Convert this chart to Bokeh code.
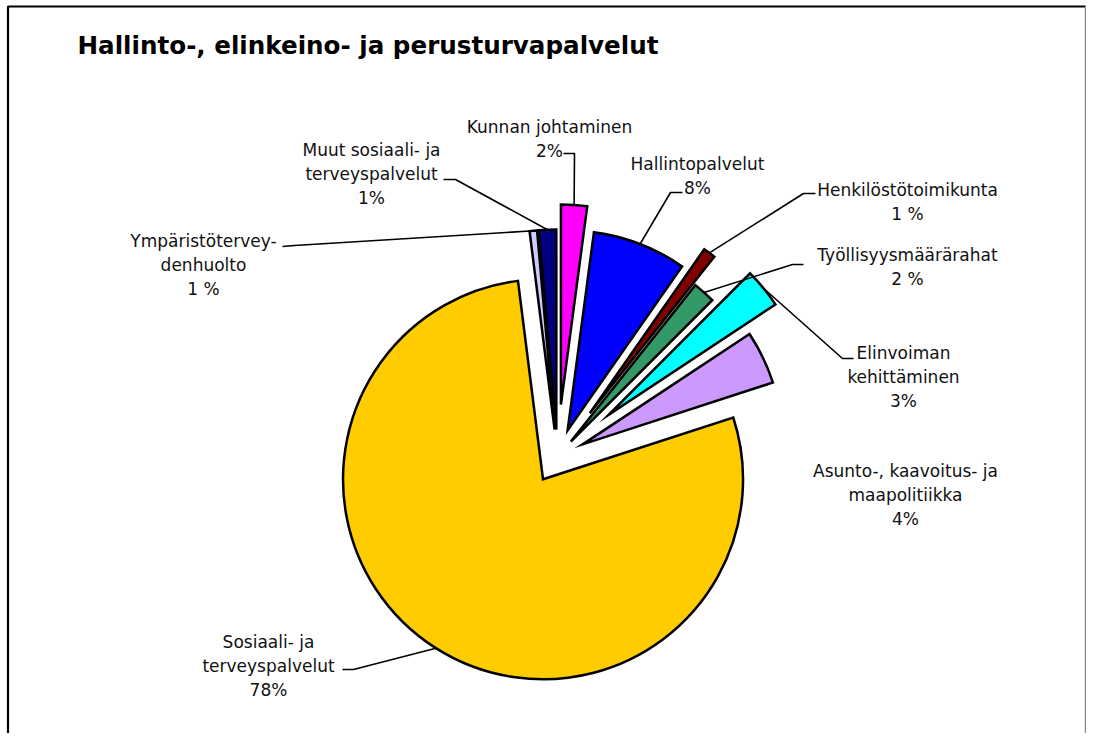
import math
from bokeh.plotting import figure
from bokeh.models import Range1d, ColumnDataSource
from bokeh.core.properties import value
from bokeh.embed import file_html
from bokeh.resources import INLINE

# ---------------- data ----------------
title_text = "Hallinto-, elinkeino- ja perusturvapalvelut"
categories = [
    "Kunnan johtaminen",
    "Hallintopalvelut",
    "Henkilöstötoimikunta",
    "Työllisyysmäärärahat",
    "Elinvoiman kehittäminen",
    "Asunto-, kaavoitus- ja maapolitiikka",
    "Sosiaali- ja terveyspalvelut",
    "Ympäristöterveydenhuolto",
    "Muut sosiaali- ja terveyspalvelut",
]
shares = [2.1, 7.6, 1.0, 1.8, 3.2, 4.3, 78.0, 0.6, 1.4]
label_texts = [
    "Kunnan johtaminen\n2%",
    "Hallintopalvelut\n8%",
    "Henkilöstötoimikunta\n1 %",
    "Työllisyysmäärärahat\n2 %",
    "Elinvoiman\nkehittäminen\n3%",
    "Asunto-, kaavoitus- ja\nmaapolitiikka\n4%",
    "Sosiaali- ja\nterveyspalvelut\n78%",
    "Ympäristötervey-\ndenhuolto\n1 %",
    "Muut sosiaali- ja\nterveyspalvelut\n1%",
]

# ---------------- style / layout ----------------
colors = ["#FF00FF", "#0000FF", "#800000", "#339966", "#00FFFF",
          "#CC99FF", "#FFCC00", "#CCCCFF", "#000080"]
explode_px = [52, 28, 54, 20, 66, 28, 27, 27, 27]
label_pos = [(549, 138), (697, 175), (907, 201), (907, 266), (903, 376),
             (905, 494), (268, 665), (203, 264), (371, 173)]
leader_start = [(563, 153), (682, 192), (815, 193), (803, 264), (853, 358),
                None, (342, 669), (282, 246), (443, 179)]
leader_elbow = [(574, 153), (670, 192), (803, 193), (792, 264), (842, 358),
                None, (353, 669), (294, 245), (455, 179)]

W, H = 1086, 733
CX, CY = 557, 456
R = 200

p = figure(width=W, height=H, output_backend="svg", toolbar_location=None,
           x_axis_location=None, y_axis_location=None, min_border=0,
           x_range=Range1d(0, W), y_range=Range1d(-H, 0))
p.grid.visible = False
p.outline_line_color = None
p.background_fill_color = "white"
p.border_fill_color = "white"

total = sum(shares)
xs, ys, sa, ea = [], [], [], []
attach = []
theta = 0.0
for v, e in zip(shares, explode_px):
    t0 = theta
    t1 = theta + 360.0 * v / total
    tm = math.radians((t0 + t1) / 2)
    cx = CX + e * math.sin(tm)
    cy = -CY + e * math.cos(tm)
    xs.append(cx)
    ys.append(cy)
    sa.append(math.radians(90 - t1))
    ea.append(math.radians(90 - t0))
    attach.append((cx + R * math.sin(tm), cy + R * math.cos(tm)))
    theta = t1

src = ColumnDataSource(dict(x=xs, y=ys, sa=sa, ea=ea, color=colors, cat=categories))
p.wedge(x="x", y="y", radius=R, start_angle="sa", end_angle="ea",
        fill_color="color", line_color="black", line_width=2.5,
        line_join="miter", source=src)

# leader lines
lx, ly = [], []
for s, el, a in zip(leader_start, leader_elbow, attach):
    if s is None:
        continue
    lx.append([s[0], el[0], a[0]])
    ly.append([-s[1], -el[1], a[1]])
p.multi_line(xs=lx, ys=ly, line_color="black", line_width=1.6)

# labels
p.text(x=[q[0] for q in label_pos], y=[-q[1] for q in label_pos], text=label_texts,
       text_align="center", text_baseline="middle",
       text_font=value("DejaVu Sans"), text_font_size="17px",
       text_line_height=1.2, text_color="#111111")

# title
p.text(x=[77], y=[-45], text=[title_text], text_align="left", text_baseline="middle",
       text_font=value("DejaVu Sans"), text_font_style="bold", text_font_size="24.6px",
       text_color="black")

# frame border (left, top, right)
p.line(x=[7.5, 7.5, 1085], y=[-H, -6, -6], line_color="black", line_width=2.2)
p.line(x=[1085, 1085], y=[-7, -H], line_color="#888888", line_width=1.5)

open("out.html", "w").write(file_html(p, INLINE))
